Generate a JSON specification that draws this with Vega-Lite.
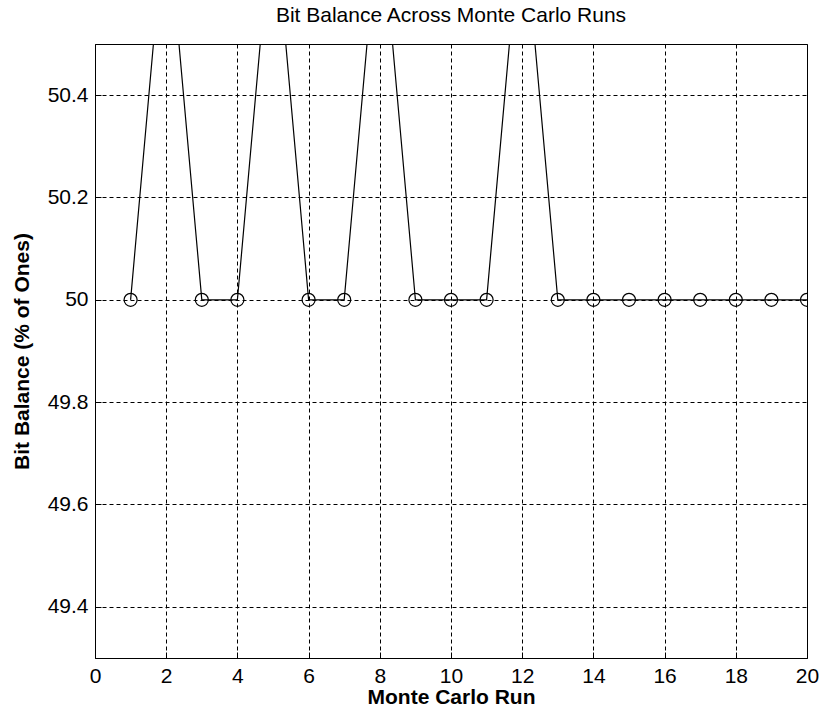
{
  "$schema": "https://vega.github.io/schema/vega-lite/v6.json",
  "width": 712,
  "height": 614,
  "autosize": {"type": "none"},
  "padding": {"left": 95, "top": 44, "right": 12, "bottom": 64},
  "background": "white",
  "title": {
    "text": "Bit Balance Across Monte Carlo Runs",
    "font": "Liberation Sans",
    "fontSize": 21,
    "fontWeight": "normal",
    "color": "black",
    "anchor": "middle",
    "baseline": "alphabetic",
    "offset": 1
  },
  "config": {
    "view": {"stroke": "black", "strokeWidth": 1},
    "axis": {
      "grid": true,
      "gridColor": "black",
      "gridDash": [4, 3],
      "gridOpacity": 1,
      "gridWidth": 1,
      "domainColor": "black",
      "domainWidth": 1,
      "tickColor": "black",
      "tickSize": -6,
      "tickWidth": 1,
      "labelFont": "Liberation Sans",
      "labelFontSize": 21,
      "labelColor": "black",
      "labelFlush": false,
      "labelOverlap": false,
      "titleFont": "Liberation Sans",
      "titleFontSize": 21,
      "titleFontWeight": "bold",
      "titleColor": "black"
    }
  },
  "data": {
    "values": [
      {"run": 1, "balance": 50},
      {"run": 2, "balance": 50.78},
      {"run": 3, "balance": 50},
      {"run": 4, "balance": 50},
      {"run": 5, "balance": 50.78},
      {"run": 6, "balance": 50},
      {"run": 7, "balance": 50},
      {"run": 8, "balance": 50.78},
      {"run": 9, "balance": 50},
      {"run": 10, "balance": 50},
      {"run": 11, "balance": 50},
      {"run": 12, "balance": 50.78},
      {"run": 13, "balance": 50},
      {"run": 14, "balance": 50},
      {"run": 15, "balance": 50},
      {"run": 16, "balance": 50},
      {"run": 17, "balance": 50},
      {"run": 18, "balance": 50},
      {"run": 19, "balance": 50},
      {"run": 20, "balance": 50}
    ]
  },
  "encoding": {
    "x": {
      "field": "run",
      "type": "quantitative",
      "scale": {"domain": [0, 20], "nice": false, "zero": false},
      "axis": {
        "values": [0, 2, 4, 6, 8, 10, 12, 14, 16, 18, 20],
        "title": "Monte Carlo Run",
        "labelPadding": 13,
        "titleBaseline": "alphabetic",
        "titleY": 45
      }
    },
    "y": {
      "field": "balance",
      "type": "quantitative",
      "scale": {"domain": [49.3, 50.5], "nice": false, "zero": false},
      "axis": {
        "values": [49.4, 49.6, 49.8, 50, 50.2, 50.4],
        "labelExpr": "format(datum.value, '~g')",
        "title": "Bit Balance (% of Ones)",
        "labelPadding": 13,
        "titleBaseline": "middle",
        "titleX": -73,
        "titleY": 307,
        "titleAngle": -90
      }
    }
  },
  "layer": [
    {
      "mark": {"type": "line", "color": "black", "strokeWidth": 1.2, "clip": true}
    },
    {
      "mark": {"type": "point", "shape": "circle", "filled": false, "color": "black", "size": 170, "strokeWidth": 1.2, "opacity": 1, "clip": true}
    }
  ]
}
